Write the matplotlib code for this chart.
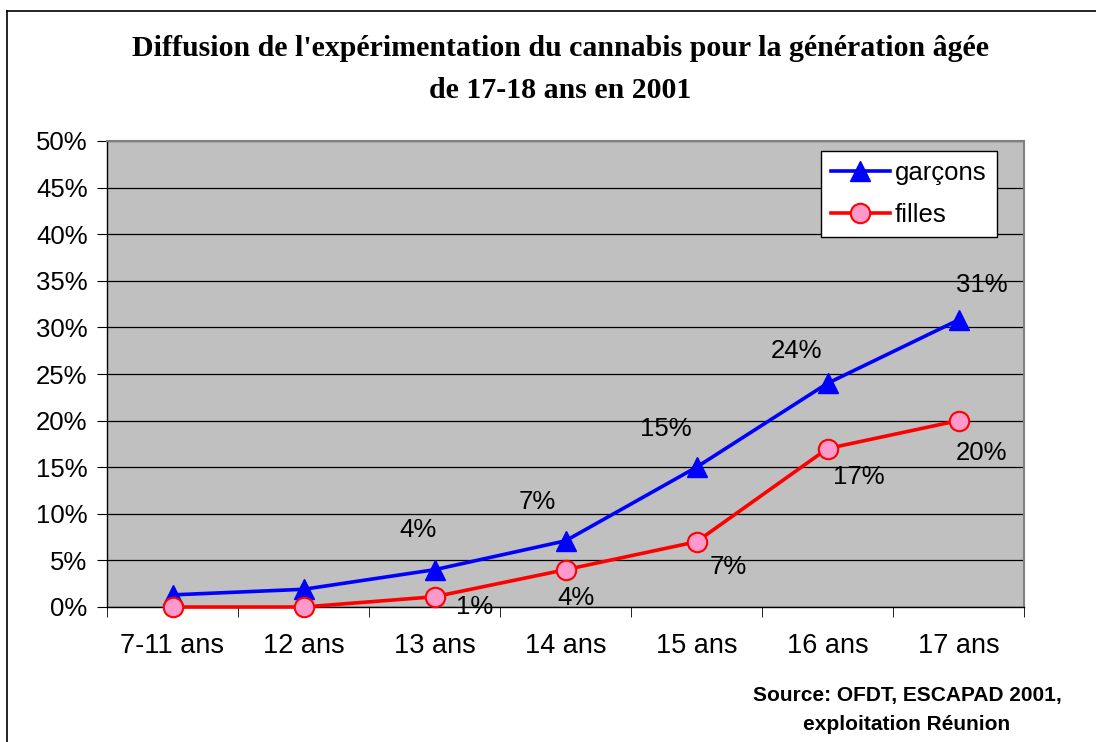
import matplotlib
matplotlib.use("Agg")
import matplotlib.pyplot as plt
from matplotlib.ticker import FuncFormatter, FixedLocator
from matplotlib.lines import Line2D

plt.rcParams["font.family"] = ["Liberation Sans", "DejaVu Sans"]

categories = ["7-11 ans", "12 ans", "13 ans", "14 ans", "15 ans", "16 ans", "17 ans"]
garcons = [1.3, 1.9, 4.0, 7.1, 15.0, 24.0, 30.8]
filles = [0.0, 0.0, 1.1, 4.0, 7.0, 17.0, 20.0]
garcons_labels = [None, None, "4%", "7%", "15%", "24%", "31%"]
filles_labels = [None, None, "1%", "4%", "7%", "17%", "20%"]

# label offsets in pixels (style)
g_off = [(0, 0), (0, 0), (-17, 40), (-28, 39), (-31, 38), (-31, 32), (23, 35)]
f_off = [(0, 0), (0, 0), (40, -10), (11, -28), (32, -25), (31, -28), (23, -32)]

FS = 18.5

fig = plt.figure(figsize=(10.96, 7.42), dpi=100)
fig.patch.set_facecolor("white")

# outer frame lines (top and left)
fig.add_artist(Line2D([7/1096, 1.0], [1-11/742, 1-11/742], transform=fig.transFigure, color="black", lw=1.2))
fig.add_artist(Line2D([7/1096, 7/1096], [0, 1-11/742], transform=fig.transFigure, color="black", lw=1.2))

ax = fig.add_axes([107/1096, 1-607/742, (1024-107)/1096, (607-141)/742])
ax.set_facecolor("#C0C0C0")
x = list(range(len(categories)))
ax.set_xlim(-0.5, len(categories) - 0.5)
ax.set_ylim(0, 50)

ax.yaxis.set_major_locator(FixedLocator(list(range(0, 55, 5))))
ax.yaxis.set_major_formatter(FuncFormatter(lambda v, p: f"{int(round(v))}%"))
ax.grid(axis="y", color="black", lw=0.9)
ax.set_axisbelow(True)

ax.set_xticks(x)
ax.set_xticklabels(categories)
ax.xaxis.set_minor_locator(FixedLocator([i - 0.5 for i in range(len(categories) + 1)]))
ax.tick_params(axis="x", which="major", length=0, pad=19, labelsize=19.5)
ax.tick_params(axis="x", which="minor", length=7, direction="out", color="black")
ax.tick_params(axis="y", length=7, direction="out", labelsize=FS, pad=7)

for side in ["top", "right"]:
    ax.spines[side].set_color("#808080")
    ax.spines[side].set_linewidth(1.5)
for side in ["left", "bottom"]:
    ax.spines[side].set_color("black")
    ax.spines[side].set_linewidth(1.0)

ax.plot(x, garcons, color="#0000FF", lw=2.6, marker="^", ms=14,
        markerfacecolor="#0000FF", markeredgecolor="#0000FF", label="garçons", clip_on=False, zorder=3)
ax.plot(x, filles, color="#FF0000", lw=2.6, marker="o", ms=14,
        markerfacecolor="#FF99CC", markeredgecolor="#FF0000", markeredgewidth=1.5,
        label="filles", clip_on=False, zorder=4)

px2pt = 72 / 100
for i, (v, lab) in enumerate(zip(garcons, garcons_labels)):
    if lab:
        ax.annotate(lab, (i, v), xytext=(g_off[i][0]*px2pt, g_off[i][1]*px2pt), textcoords="offset points",
                    ha="center", va="center", fontsize=FS, zorder=5)
for i, (v, lab) in enumerate(zip(filles, filles_labels)):
    if lab:
        ax.annotate(lab, (i, v), xytext=(f_off[i][0]*px2pt, f_off[i][1]*px2pt), textcoords="offset points",
                    ha="center", va="center", fontsize=FS, zorder=5)

leg = ax.legend(loc="upper right", bbox_to_anchor=((997-107)/917, (607-151)/466), frameon=True,
                fancybox=False, edgecolor="black", facecolor="white", framealpha=1,
                fontsize=FS, handlelength=2.3, borderpad=0.4, labelspacing=0.68, handletextpad=0.2,
                borderaxespad=0)
leg.get_frame().set_linewidth(1.0)

fig.text(560/1096, 1-48/742, "Diffusion de l'expérimentation du cannabis pour la génération âgée",
         ha="center", va="center", fontsize=21.5, fontweight="bold", family="Liberation Serif")
fig.text(560/1096, 1-90/742, "de 17-18 ans en 2001",
         ha="center", va="center", fontsize=21.5, fontweight="bold", family="Liberation Serif")

fig.text(907/1096, 1-710/742, "Source: OFDT, ESCAPAD 2001,\nexploitation Réunion",
         ha="center", va="center", fontsize=15, fontweight="bold", family="Liberation Sans",
         linespacing=1.65)

fig.savefig("out.png", dpi=100)
